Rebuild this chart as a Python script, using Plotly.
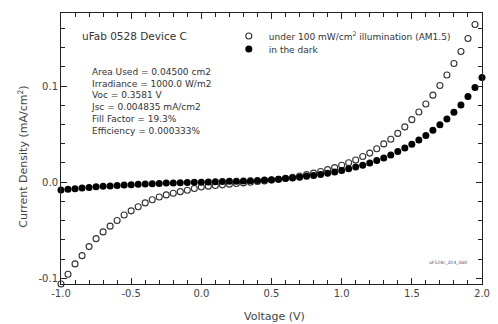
import plotly.graph_objects as go

voltage = [-1.00, -0.95, -0.90, -0.85, -0.80, -0.75, -0.70, -0.65, -0.60, -0.55,
           -0.50, -0.45, -0.40, -0.35, -0.30, -0.25, -0.20, -0.15, -0.10, -0.05,
           0.00, 0.05, 0.10, 0.15, 0.20, 0.25, 0.30, 0.35, 0.40, 0.45,
           0.50, 0.55, 0.60, 0.65, 0.70, 0.75, 0.80, 0.85, 0.90, 0.95,
           1.00, 1.05, 1.10, 1.15, 1.20, 1.25, 1.30, 1.35, 1.40, 1.45,
           1.50, 1.55, 1.60, 1.65, 1.70, 1.75, 1.80, 1.85, 1.90, 1.95, 2.00]

j_light = [-0.1060, -0.0958, -0.0851, -0.0765, -0.0671, -0.0588, -0.0518, -0.0458, -0.0399, -0.0342,
           -0.0299, -0.0256, -0.0216, -0.0183, -0.0155, -0.0133, -0.0115, -0.0099, -0.0084, -0.0066,
           -0.0050, -0.0042, -0.0035, -0.0028, -0.0021, -0.0014, -0.0008, -0.0001, 0.0006, 0.0013,
           0.0021, 0.0030, 0.0040, 0.0051, 0.0064, 0.0078, 0.0094, 0.0111, 0.0130, 0.0151,
           0.0175, 0.0202, 0.0230, 0.0266, 0.0302, 0.0348, 0.0398, 0.0447, 0.0507, 0.0575,
           0.0650, 0.0730, 0.0813, 0.0905, 0.1005, 0.1115, 0.1235, 0.1360, 0.1495, 0.1640, 0.1775]

j_dark = [-0.0083, -0.0075, -0.0068, -0.0061, -0.0055, -0.0049, -0.0044, -0.0039, -0.0034, -0.0030,
          -0.0026, -0.0022, -0.0019, -0.0016, -0.0013, -0.0010, -0.0008, -0.0006, -0.0004, -0.0002,
          0.0000, 0.0002, 0.0004, 0.0006, 0.0008, 0.0010, 0.0012, 0.0015, 0.0018, 0.0022,
          0.0026, 0.0031, 0.0037, 0.0044, 0.0051, 0.0060, 0.0069, 0.0080, 0.0092, 0.0106,
          0.0122, 0.0138, 0.0157, 0.0177, 0.0199, 0.0224, 0.0252, 0.0283, 0.0318, 0.0356,
          0.0395, 0.0438, 0.0486, 0.0540, 0.0596, 0.0658, 0.0728, 0.0802, 0.0890, 0.0986, 0.1090]

x_tick_vals = [-1.0, -0.5, 0.0, 0.5, 1.0, 1.5, 2.0]
x_tick_labels = ["-1.0", "-0.5", "0.0", "0.5", "1.0", "1.5", "2.0"]
y_tick_vals = [-0.1, 0.0, 0.1]
y_tick_labels = ["-0.1", "0.0", "0.1"]

series_names = ["under 100 mW/cm<sup>2</sup> illumination (AM1.5)", "in the dark"]
title_text = "uFab 0528 Device C"
info_lines = [
    "Area Used = 0.04500 cm2",
    "Irradiance = 1000.0 W/m2",
    "Voc = 0.3581 V",
    "Jsc = 0.004835 mA/cm2",
    "Fill Factor = 19.3%",
    "Efficiency = 0.000333%",
]
file_tag = "uF528c_d14_d60"
x_title = "Voltage (V)"
y_title = "Current Density (mA/cm<sup>2</sup>)"

FONT = "DejaVu Sans"
W, H = 498, 324
ML, MR, MT, MB = 61, 8, 13, 40
PW, PH = W - ML - MR, H - MT - MB


def px(x):
    return (x - ML) / PW


def py(y):
    return (H - MB - y) / PH


fig = go.Figure()
fig.add_trace(go.Scatter(
    x=voltage, y=j_light, mode="markers", name=series_names[0], legend="legend",
    marker=dict(symbol="circle-open", size=6, color="#333333", line=dict(width=1.1)),
    cliponaxis=False,
))
fig.add_trace(go.Scatter(
    x=voltage, y=j_dark, mode="markers", name=series_names[1], legend="legend2",
    marker=dict(symbol="circle", size=7, color="#000000"),
    cliponaxis=False,
))

axis_common = dict(
    showgrid=False, zeroline=False, showline=True, linecolor="#222222", linewidth=1,
    mirror="ticks", ticks="inside", ticklen=6, tickcolor="#222222", tickwidth=1,
    tickfont=dict(family=FONT, size=10, color="#444444"),
)
fig.update_xaxes(
    range=[-1.0, 2.0], tickmode="array", tickvals=x_tick_vals, ticktext=x_tick_labels,
    minor=dict(dtick=0.1, ticks="inside", ticklen=4, tickcolor="#222222", showgrid=False),
    **axis_common,
)
fig.update_yaxes(
    range=[-0.106, 0.176], tickmode="array", tickvals=y_tick_vals, ticktext=y_tick_labels,
    minor=dict(tick0=0, dtick=0.02, ticks="inside", ticklen=4, tickcolor="#222222", showgrid=False),
    **axis_common,
)

ann = []
ann.append(dict(text=title_text, x=px(80), y=py(36), xref="paper", yref="paper",
                xanchor="left", yanchor="middle", showarrow=False,
                font=dict(family=FONT, size=10.5, color="#333333")))
ann.append(dict(text="<br>".join(info_lines), x=px(90), y=py(65), xref="paper", yref="paper",
                xanchor="left", yanchor="top", align="left", showarrow=False,
                font=dict(family=FONT, size=9, color="#333333")))
ann.append(dict(text=file_tag, x=px(455), y=py(263), xref="paper", yref="paper",
                xanchor="center", yanchor="middle", showarrow=False,
                font=dict(family=FONT, size=4.5, color="#555555")))
ann.append(dict(text=x_title, x=px(279), y=py(316), xref="paper", yref="paper",
                xanchor="center", yanchor="middle", showarrow=False,
                font=dict(family=FONT, size=11, color="#444444")))
ann.append(dict(text=y_title, x=px(22), y=py(157), xref="paper", yref="paper",
                xanchor="center", yanchor="middle", showarrow=False, textangle=-90,
                font=dict(family=FONT, size=11, color="#444444")))

legend_font = dict(family=FONT, size=9, color="#333333")
fig.update_layout(
    width=W, height=H,
    margin=dict(l=ML, r=MR, t=MT, b=MB, pad=0),
    paper_bgcolor="white", plot_bgcolor="white",
    showlegend=True,
    legend=dict(x=px(232), y=py(36), xanchor="left", yanchor="middle",
                bgcolor="rgba(0,0,0,0)", borderwidth=0, itemwidth=30, font=legend_font),
    legend2=dict(x=px(232), y=py(49), xanchor="left", yanchor="middle",
                 bgcolor="rgba(0,0,0,0)", borderwidth=0, itemwidth=30, font=legend_font),
    annotations=ann,
)

fig.write_html("out.html", config={"displayModeBar": False},
               post_script="document.body.style.margin='0';")
